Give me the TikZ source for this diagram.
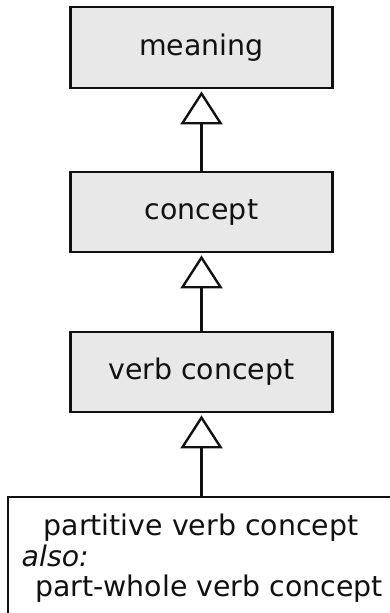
\documentclass[tikz,border=0pt]{standalone}
\usepackage{fontspec}
\setmainfont{DejaVu Sans}
\usetikzlibrary{arrows.meta,positioning}
\definecolor{SbvrGray}{RGB}{232,232,232}
\definecolor{SbvrInk}{RGB}{17,17,17}
\tikzset{
  sbvr/box/.style={
    draw=SbvrInk,
    line width=2.8pt,
    fill=SbvrGray,
    align=center,
    text=SbvrInk,
    minimum width=262pt,
    minimum height=80pt,
    inner sep=0pt,
    font=\fontsize{28.4}{31}\selectfont
  },
  sbvr/whitebox/.style={
    draw=SbvrInk,
    line width=2.8pt,
    fill=white,
    minimum width=387pt,
    minimum height=128pt,
    inner sep=0pt
  },
  sbvr/text/.style={font=\fontsize{28.4}{31}\selectfont, text=SbvrInk, inner sep=0pt, anchor=base},
  sbvr/alsotext/.style={font=\fontsize{28.4}{31}\selectfont\itshape, text=SbvrInk, inner sep=0pt, anchor=base west},
  sbvr/arrow/.style={-{Triangle[open,length=33pt,width=42pt]}, line width=2.4pt, draw=SbvrInk, shorten >=2pt}
}
\begin{document}
\begin{tikzpicture}[x=1pt,y=1pt]
  \clip (0,0) rectangle (390,-613);
  \node[sbvr/box,minimum height=81pt] (meaning) at (201.5,-47.5) {meaning};
  \node[sbvr/box] (concept) at (201.5,-212) {concept};
  \node[sbvr/box] (verb) at (201.5,-372) {verb concept};
  \node[sbvr/whitebox] (partitive) at (201.5,-561) {};
  \node[sbvr/text] (partname) at (201,-535) {partitive verb concept};
  \node[sbvr/alsotext] (also) at (21.5,-566.5) {also:};
  \node[sbvr/text] (partwhole) at (209,-596.5) {part-whole verb concept};
  \draw[sbvr/arrow] (concept) -- (meaning);
  \draw[sbvr/arrow] (verb) -- (concept);
  \draw[sbvr/arrow] (partitive) -- (verb);
\end{tikzpicture}
\end{document}
